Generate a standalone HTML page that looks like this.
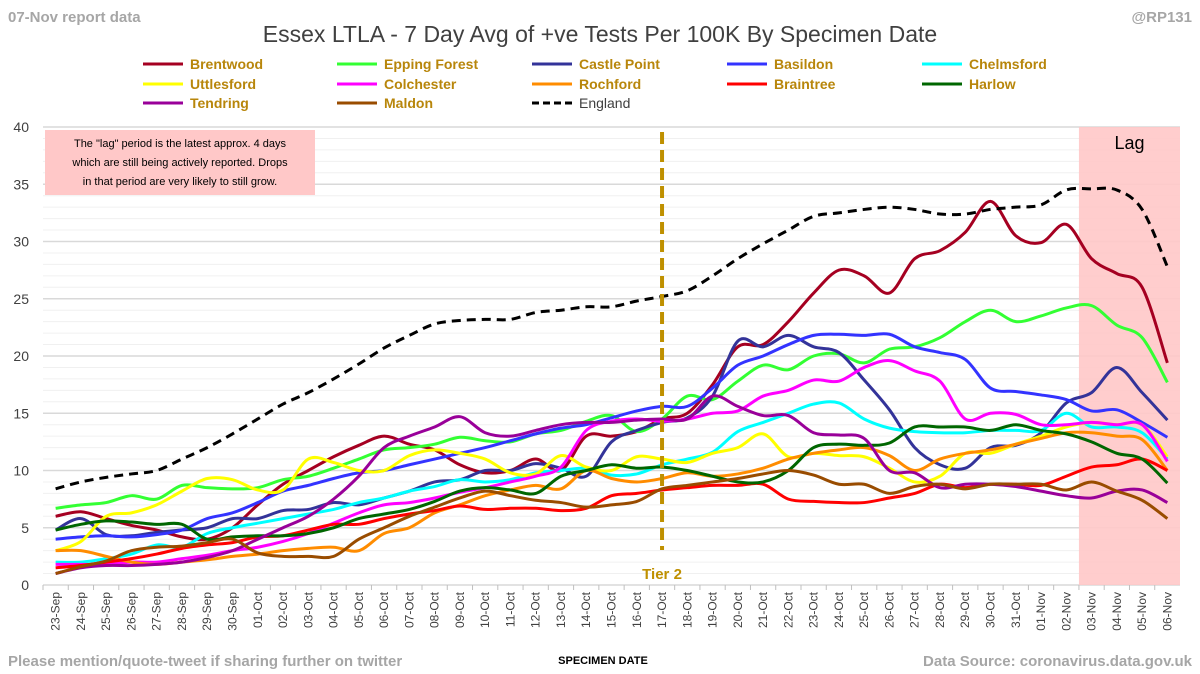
<!DOCTYPE html>
<html><head><meta charset="utf-8"><style>
body{margin:0;background:#fff;}
svg{display:block;font-family:"Liberation Sans",sans-serif;}
</style></head><body>
<svg id="chart" width="1200" height="674" viewBox="0 0 1200 674" xmlns="http://www.w3.org/2000/svg">
<rect width="1200" height="674" fill="#fff"/>
<text x="8" y="22" font-size="15" font-weight="bold" fill="#a6a6a6">07-Nov report data</text>
<text x="1192" y="22" font-size="15" font-weight="bold" fill="#a6a6a6" text-anchor="end">@RP131</text>
<text x="600" y="42" font-size="23" fill="#404040" text-anchor="middle">Essex LTLA - 7 Day Avg of +ve Tests Per 100K By Specimen Date</text>
<g id="grid"></g>
<rect id="lag" fill="#ffc8c8" opacity="0.9"/>
<text id="lagtxt" font-size="18" fill="#000" text-anchor="middle">Lag</text>
<g id="axes"></g>
<g id="series"></g>
<g id="tier"></g>
<g>
<rect x="45" y="130" width="270" height="65" fill="#ffc8c8"/>
<text x="180" y="147" font-size="11" text-anchor="middle" fill="#000">The "lag" period is the latest approx. 4 days</text>
<text x="180" y="166" font-size="11" text-anchor="middle" fill="#000">which are still being actively reported.  Drops</text>
<text x="180" y="185" font-size="11" text-anchor="middle" fill="#000">in that period are very likely to still grow.</text>
</g>
<g id="legend"></g>
<text x="603" y="664" font-size="11" font-weight="bold" fill="#000" text-anchor="middle">SPECIMEN DATE</text>
<text x="8" y="666" font-size="15" font-weight="bold" fill="#a6a6a6">Please mention/quote-tweet if sharing further on twitter</text>
<text x="1192" y="666" font-size="15" font-weight="bold" fill="#a6a6a6" text-anchor="end">Data Source: coronavirus.data.gov.uk</text>
</svg>
<script>
const dates=["23-Sep","24-Sep","25-Sep","26-Sep","27-Sep","28-Sep","29-Sep","30-Sep","01-Oct","02-Oct","03-Oct","04-Oct","05-Oct","06-Oct","07-Oct","08-Oct","09-Oct","10-Oct","11-Oct","12-Oct","13-Oct","14-Oct","15-Oct","16-Oct","17-Oct","18-Oct","19-Oct","20-Oct","21-Oct","22-Oct","23-Oct","24-Oct","25-Oct","26-Oct","27-Oct","28-Oct","29-Oct","30-Oct","31-Oct","01-Nov","02-Nov","03-Nov","04-Nov","05-Nov","06-Nov"];
const yTicks=[0,5,10,15,20,25,30,35,40];
const england=[8.4,9.0,9.4,9.7,10.0,11.0,12.0,13.2,14.5,15.8,16.8,18.0,19.3,20.7,21.8,22.8,23.1,23.2,23.2,23.8,24.0,24.3,24.3,24.8,25.2,25.7,27.0,28.5,29.8,31.0,32.2,32.5,32.8,33.0,32.8,32.4,32.4,32.8,33.0,33.2,34.5,34.6,34.5,32.8,27.8];
const brentwood=[6.0,6.4,5.8,5.2,4.8,4.2,4.0,5.0,7.0,8.8,10.0,11.2,12.2,13.0,12.3,11.8,10.5,9.8,10.0,11.0,10.0,13.0,13.0,13.4,14.5,15.0,17.5,20.8,21.0,23.0,25.5,27.5,27.0,25.5,28.5,29.2,30.8,33.5,30.5,29.9,31.5,28.5,27.2,26.0,19.4];
const epping=[6.7,7.0,7.2,7.8,7.5,8.7,8.5,8.4,8.5,9.2,9.5,10.2,11.0,11.8,12.0,12.3,12.9,12.6,12.5,13.2,13.5,14.3,14.8,13.4,14.5,16.5,16.2,17.8,19.2,18.8,20.0,20.2,19.4,20.6,20.8,21.6,23.0,24.0,23.0,23.5,24.2,24.4,22.7,21.6,17.7];
const castlePoint=[4.8,5.8,4.4,4.3,4.6,4.8,5.0,5.8,5.8,6.5,6.6,7.2,7.0,7.6,8.2,9.0,9.2,10.0,10.0,10.6,10.2,9.5,12.5,13.5,14.2,14.6,16.5,21.3,20.8,21.8,20.8,20.3,17.9,15.3,12.0,10.5,10.2,12.0,12.2,13.3,15.9,16.8,19.0,16.8,14.4];
const basildon=[4.0,4.2,4.3,4.2,4.4,4.8,5.8,6.3,7.2,8.2,8.7,9.3,9.8,10.0,10.5,11.0,11.5,12.0,12.6,13.2,13.7,14.0,14.6,15.2,15.6,15.6,17.2,19.2,20.0,21.0,21.8,21.9,21.8,21.9,20.8,20.3,19.7,17.2,16.9,16.6,16.2,15.2,15.3,14.2,12.9];
const chelmsford=[2.0,2.0,2.3,2.7,3.5,3.3,4.5,5.0,5.4,5.8,6.2,6.6,7.2,7.6,8.2,8.6,9.2,9.0,9.2,9.8,10.0,10.2,9.6,9.7,10.5,11.0,11.6,13.4,14.2,15.0,15.8,15.9,14.5,13.7,13.4,13.3,13.3,13.5,13.5,13.5,15.0,13.8,13.8,13.3,11.0];
const uttlesford=[3.0,3.8,6.0,6.3,7.0,8.2,9.3,9.2,8.3,8.3,11.0,10.7,10.0,10.0,11.3,11.8,11.5,11.0,9.8,9.7,11.3,10.3,10.0,11.2,11.0,10.7,11.5,12.0,13.2,11.2,11.5,11.3,11.2,10.2,9.0,9.5,11.5,11.5,12.3,13.0,13.8,14.2,14.0,14.0,11.2];
const colchester=[1.8,1.8,1.8,2.0,2.0,2.3,2.6,3.0,3.3,3.8,4.5,5.4,6.3,7.0,7.2,7.6,8.1,8.5,9.0,9.5,10.3,13.5,14.3,14.5,14.3,14.5,15.0,15.2,16.5,17.0,17.9,17.8,19.0,19.6,18.7,17.8,14.5,15.0,14.9,14.0,14.0,14.2,14.0,14.0,10.8];
const rochford=[3.0,3.0,2.5,2.0,1.8,2.0,2.2,2.5,2.7,3.0,3.2,3.3,3.0,4.5,5.0,6.3,7.0,7.8,8.3,8.7,8.4,10.0,9.3,9.0,9.3,9.8,9.5,9.7,10.2,11.0,11.5,11.8,12.0,11.3,10.0,11.0,11.5,11.8,12.3,12.8,13.3,13.3,13.0,12.7,10.0];
const braintree=[1.5,1.7,2.0,2.3,2.7,3.2,3.5,3.7,4.2,4.3,4.8,5.3,5.3,5.8,6.2,6.5,6.9,6.6,6.7,6.7,6.5,6.7,7.8,8.0,8.3,8.5,8.7,8.7,8.8,7.5,7.3,7.2,7.2,7.6,8.0,8.8,8.5,8.8,8.8,8.7,9.5,10.3,10.5,11.0,10.0];
const harlow=[4.8,5.3,5.6,5.5,5.3,5.3,4.0,4.2,4.3,4.3,4.5,5.0,5.8,6.2,6.6,7.3,8.2,8.5,8.3,8.0,9.5,10.0,10.5,10.2,10.3,10.0,9.5,9.0,9.0,10.0,12.0,12.3,12.2,12.4,13.8,13.8,13.8,13.5,14.0,13.5,13.2,12.5,11.5,11.0,8.9];
const tendring=[1.0,1.5,1.7,1.7,1.8,2.0,2.4,3.0,4.0,5.0,6.0,7.5,9.5,12.0,13.0,13.8,14.7,13.3,13.0,13.5,14.0,14.2,14.2,14.4,14.5,14.5,16.5,15.6,14.8,14.8,13.3,13.1,12.8,10.0,9.8,8.5,8.8,8.8,8.6,8.2,7.8,7.6,8.2,8.3,7.2];
const maldon=[1.0,1.6,2.1,3.0,3.3,3.4,3.7,4.0,2.8,2.5,2.5,2.5,4.0,5.0,6.0,6.8,7.6,8.2,7.8,7.4,7.2,6.8,7.0,7.3,8.4,8.7,9.0,9.3,9.7,10.0,9.6,8.8,8.8,8.0,8.6,8.8,8.4,8.8,8.8,8.8,8.3,9.0,8.2,7.4,5.8];
const seriesNames=["Brentwood","Epping Forest","Castle Point","Basildon","Chelmsford","Uttlesford","Colchester","Rochford","Braintree","Harlow","Tendring","Maldon","England"];
const seriesData=[brentwood,epping,castlePoint,basildon,chelmsford,uttlesford,colchester,rochford,braintree,harlow,tendring,maldon,england];
const colors=["#a50021","#33ff33","#333399","#3333ff","#00ffff","#ffff00","#ff00ff","#ff8c00","#ff0000","#006600","#990099","#994c00","#000000"];
const tierIndex=24, lagStart=41;
const NS="http://www.w3.org/2000/svg";
const L=43,R=1180,T=127,B=585,yMax=40;
const bw=(R-L)/dates.length;
const x=i=>L+bw*(i+0.5);
const y=v=>B-(v/yMax)*(B-T);
function mk(tag,attrs,parent){const e=document.createElementNS(NS,tag);for(const k in attrs)e.setAttribute(k,attrs[k]);parent.appendChild(e);return e;}
const grid=document.getElementById('grid'),axes=document.getElementById('axes'),sg=document.getElementById('series');
for(let v=0;v<=yMax;v++){if(v%5===0)continue;const g=mk('line',{x1:L,x2:R,y1:y(v),y2:y(v),stroke:'#f0f0f0','stroke-width':1},grid);}
yTicks.forEach(v=>{const g=mk('line',{x1:L,x2:R,y1:y(v),y2:y(v),stroke:'#d9d9d9','stroke-width':1.5},grid);
const t=mk('text',{x:L-14,y:y(v)+5,'font-size':14,'text-anchor':'end',fill:'#404040'},axes);t.textContent=v;});
const lag=document.getElementById('lag');
lag.setAttribute('x',L+bw*lagStart);lag.setAttribute('y',T);lag.setAttribute('width',R-(L+bw*lagStart));lag.setAttribute('height',B-T);
const lt=document.getElementById('lagtxt');lt.setAttribute('x',(L+bw*lagStart+R)/2);lt.setAttribute('y',T+22);
dates.forEach((d,i)=>{const tk=mk('line',{x1:L+bw*i,x2:L+bw*i,y1:B,y2:B+5,stroke:'#bfbfbf'},axes);
const t=mk('text',{transform:`translate(${x(i)+4},${B+7}) rotate(-90)`,'font-size':12,'text-anchor':'end',fill:'#404040'},axes);t.textContent=d;});
function smooth(arr){const p=arr.map((v,i)=>[x(i),y(v)]);let d=`M${p[0][0]},${p[0][1]}`;for(let i=0;i<p.length-1;i++){const p0=p[i-1]||p[i],p1=p[i],p2=p[i+1],p3=p[i+2]||p2;const c1=[p1[0]+(p2[0]-p0[0])/6,p1[1]+(p2[1]-p0[1])/6],c2=[p2[0]-(p3[0]-p1[0])/6,p2[1]-(p3[1]-p1[1])/6];d+=`C${c1[0]},${c1[1]} ${c2[0]},${c2[1]} ${p2[0]},${p2[1]}`;}return d;}
seriesData.forEach((s,k)=>{const isEng=k===12;const p=mk('path',{d:smooth(s),fill:'none',stroke:colors[k],'stroke-width':3,'stroke-linejoin':'round'},sg);if(isEng)p.setAttribute('stroke-dasharray','9 6');

});
const tier=document.getElementById('tier');
const tl=mk('line',{x1:x(tierIndex),x2:x(tierIndex),y1:T+5,y2:B-35,stroke:'#bf9000','stroke-width':4,'stroke-dasharray':'12 6'},tier);

const tt=mk('text',{x:x(tierIndex),y:B-6,'font-size':15,'font-weight':'bold',fill:'#bf9000','text-anchor':'middle'},tier);tt.textContent='Tier 2';

const leg=document.getElementById('legend');
const colX=[143,337,532,727,922],rowY=[64,84,103];
seriesNames.forEach((n,k)=>{const cx=colX[k%5],cy=rowY[Math.floor(k/5)];const g=mk('g',{},leg);
const ln=mk('line',{x1:cx,x2:cx+40,y1:cy,y2:cy,stroke:colors[k],'stroke-width':3},g);if(k===12)ln.setAttribute('stroke-dasharray','7 4');
const t=mk('text',{x:cx+47,y:cy+5,'font-size':14,'font-weight':k===12?'normal':'bold',fill:k===12?'#404040':'#b8860b'},g);t.textContent=n;});
</script>
</body></html>
